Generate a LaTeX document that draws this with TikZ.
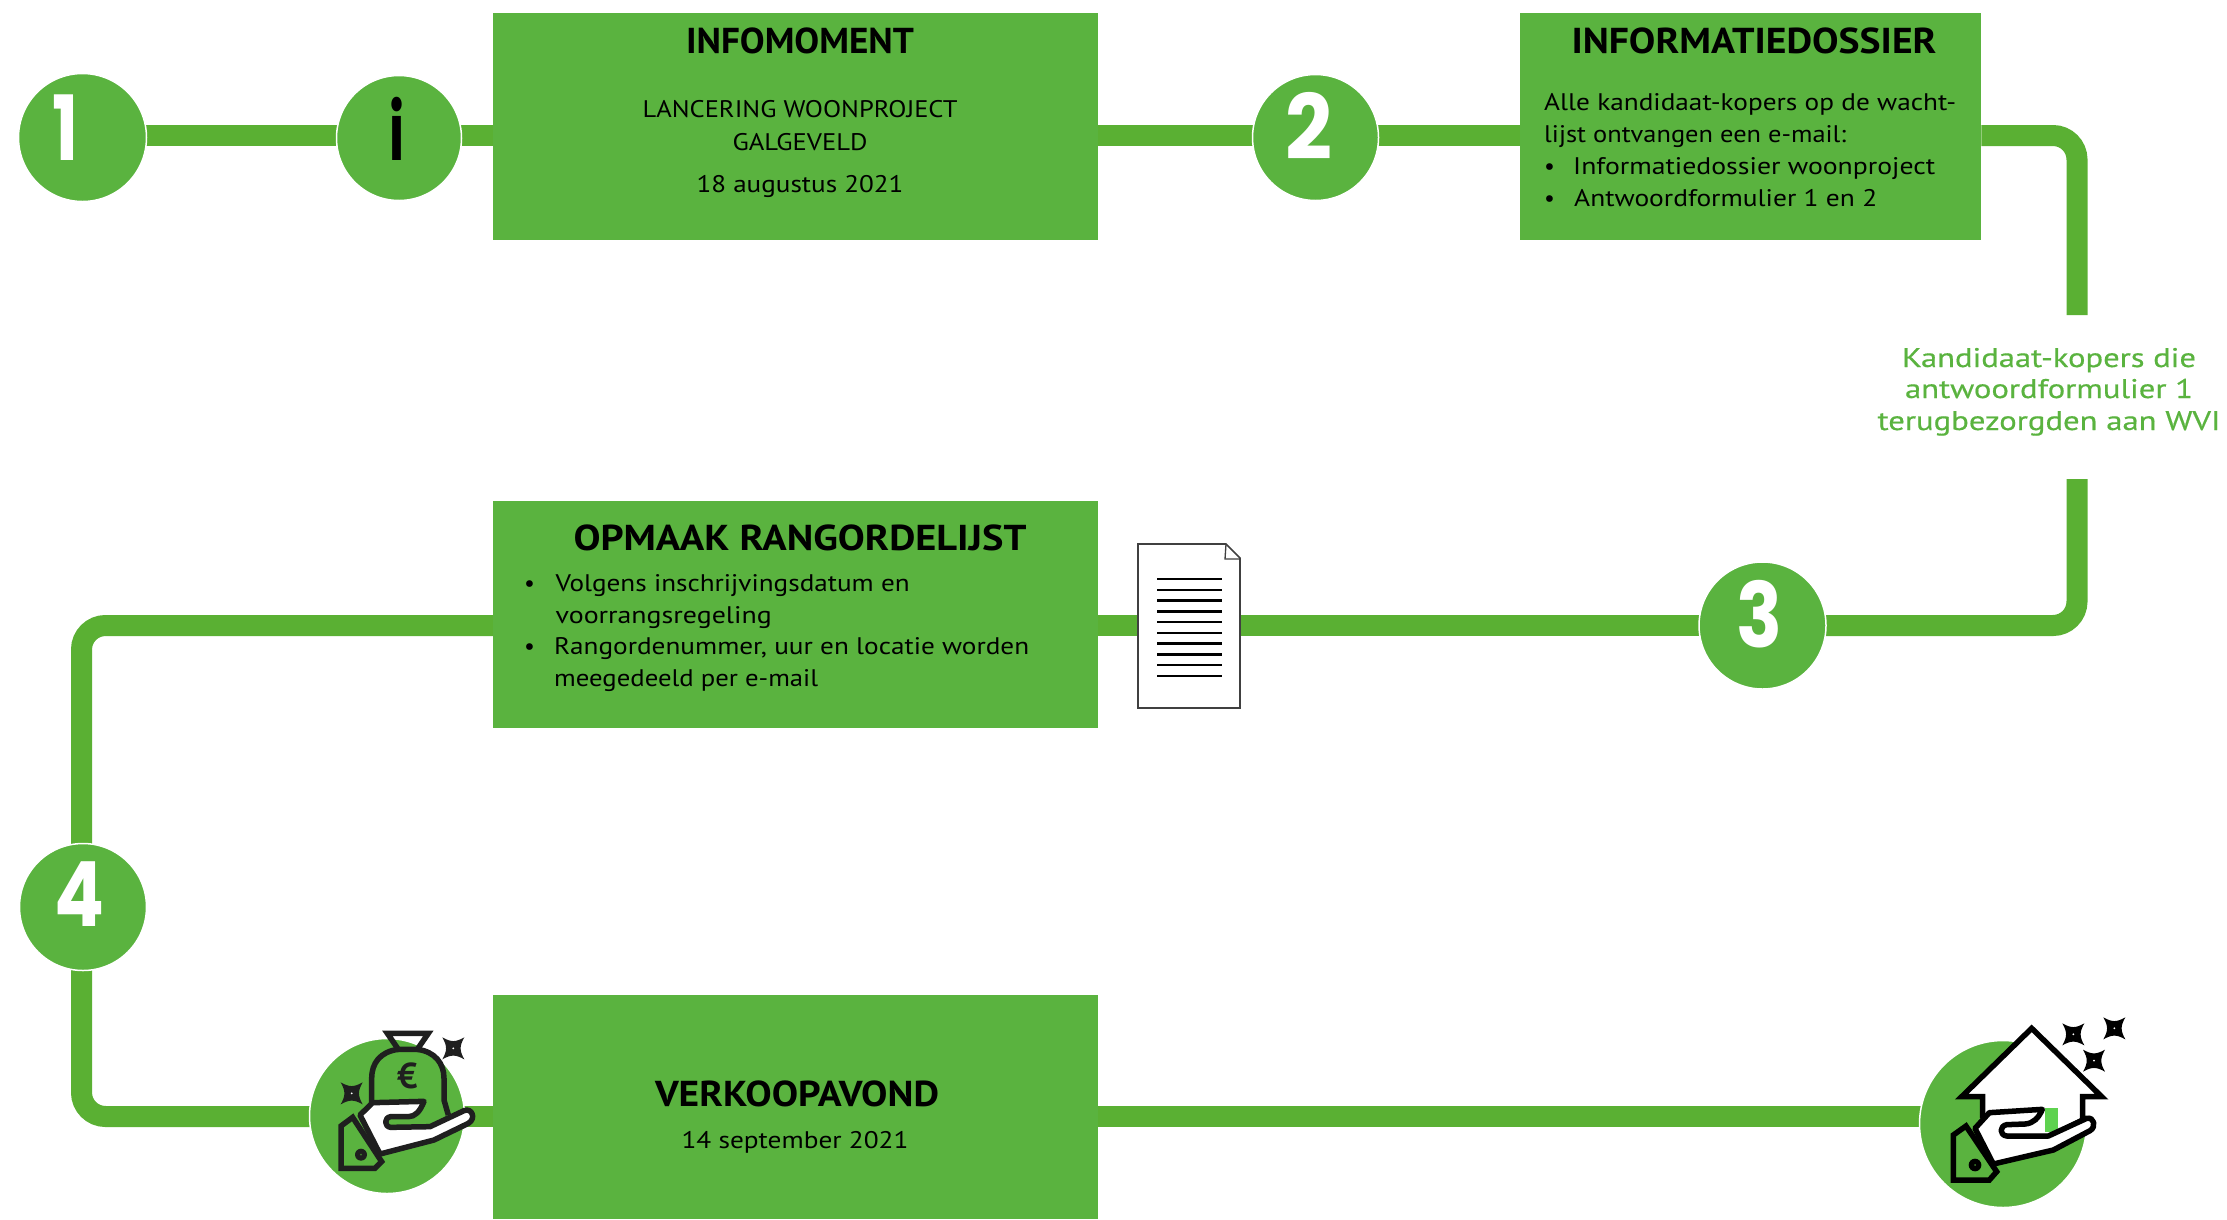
\documentclass[tikz,border=0pt]{standalone}
\usepackage{graphicx}
\usepackage{fontspec}
\setmainfont{PT Sans}
\newfontfamily\digitfont{Poppins}
\usetikzlibrary{backgrounds}
\definecolor{gbox}{HTML}{5AB33F}
\definecolor{gline}{HTML}{5AB033}
\definecolor{gmark}{HTML}{5ED24F}
\newsavebox{\fitbox}
\newcommand{\fitw}[2]{\sbox{\fitbox}{#2}\pgfmathsetmacro{\fitr}{#1/\the\wd\fitbox}\scalebox{\fitr}[1]{\usebox{\fitbox}}}
\newcommand{\sparkle}[4]{%
  \fill[#4] (#1-#3,#2-#3) .. controls (#1-#3*0.2,#2-#3*0.55) and (#1+#3*0.2,#2-#3*0.55) .. (#1+#3,#2-#3)
    .. controls (#1+#3*0.55,#2-#3*0.2) and (#1+#3*0.55,#2+#3*0.2) .. (#1+#3,#2+#3)
    .. controls (#1+#3*0.2,#2+#3*0.55) and (#1-#3*0.2,#2+#3*0.55) .. (#1-#3,#2+#3)
    .. controls (#1-#3*0.55,#2+#3*0.2) and (#1-#3*0.55,#2-#3*0.2) .. cycle;
  \fill[white] (#1,#2) circle[radius=3];}
\tikzset{
  x=1pt,y=-1pt,
  stepc/.style={circle,fill=gbox,draw=white,line width=1.5pt,minimum size=#1,inner sep=0pt},
  boxn/.style={fill=gbox,draw=none,anchor=north west,inner sep=0pt},
  conn/.style={draw=gline,line width=21pt,line cap=butt,rounded corners=24pt},
  txt/.style={anchor=base,inner sep=0pt,font=\fontsize{24}{24}\selectfont,text=black},
  txtw/.style={anchor=base west,inner sep=0pt,font=\fontsize{24}{24}\selectfont,text=black},
  ttl/.style={anchor=base,inner sep=0pt,font=\fontsize{36}{36}\selectfont\bfseries,text=black},
  lbl/.style={anchor=base,inner sep=0pt,font=\fontsize{27}{27}\selectfont\addfontfeature{FakeBold=0.4},text=gbox},
  digit/.style={anchor=base,inner sep=0pt,font=\fontsize{90}{90}\selectfont\digitfont\bfseries,text=white},
  idigit/.style={anchor=base,inner sep=0pt,font=\fontsize{79}{79}\selectfont\digitfont\bfseries,text=black},
  iconline/.style={line width=5.5pt,line join=miter},
}
\begin{document}
\begin{tikzpicture}
\useasboundingbox (0,0) rectangle (2227,1219);
% row guide coordinates
\coordinate (r1) at (0,135.5);
\coordinate (r2) at (0,625.5);
\coordinate (r3) at (0,1116.5);
\coordinate (rightx) at (2077,0);
\coordinate (leftx) at (81.5,0);
\coordinate (gapA) at (2077,315);
\coordinate (gapB) at (2077,479);
\coordinate (houseend) at (1930,1116.5);
% boxes
\node[boxn,minimum width=605pt,minimum height=227pt] (box1) at (493,13) {};
\node[boxn,minimum width=461.5pt,minimum height=227pt] (box2) at (1519.5,13) {};
\node[boxn,minimum width=605pt,minimum height=227pt] (box3) at (493,501) {};
\node[boxn,minimum width=605pt,minimum height=224pt] (box4) at (493,995) {};
% circles
\node[stepc=128pt] (c1) at (82.5,137.5) {};
\node[stepc=125pt] (ci) at (399,138) {};
\node[stepc=126pt] (c2) at (1315.5,137.5) {};
\node[stepc=127pt] (c3) at (1762.5,625.5) {};
\node[stepc=127pt] (c4) at (83,907) {};
\node[stepc=155pt] (cm) at (387,1116) {};
\node[stepc=167pt] (ch) at (2003,1124) {};
% digits
\node[digit] (d1) at (65.5,160) {\fitw{26}{1}};
\node[idigit] (di) at (397,160) {\fitw{15}{i}};
\node[digit] (d2) at (1309,159) {\fitw{47}{2}};
\node[digit] (d3) at (1759,647) {\fitw{46}{3}};
\node[digit] (d4) at (79,926) {\fitw{50}{4}};
% box 1 text
\node[ttl] (t1) at (800,53) {\fitw{228}{INFOMOMENT}};
\node[txt] (t1a) at (800,117) {\fitw{315}{LANCERING WOONPROJECT}};
\node[txt] (t1b) at (800,150) {\fitw{135}{GALGEVELD}};
\node[txt] (t1c) at (800,192) {\fitw{207}{18 augustus 2021}};
% box 2 text
\node[ttl] (t2) at (1754,53) {\fitw{365}{INFORMATIEDOSSIER}};
\node[txtw] (t2a) at (1544,110) {\fitw{412}{Alle kandidaat-kopers op de wacht-}};
\node[txtw] (t2b) at (1544,142) {\fitw{302}{lijst ontvangen een e-mail:}};
\node[txtw] (b2a) at (1544,174) {•};
\node[txtw] (t2c) at (1573,174) {\fitw{362}{Informatiedossier woonproject}};
\node[txtw] (b2b) at (1544,206) {•};
\node[txtw] (t2d) at (1574,206) {\fitw{303}{Antwoordformulier 1 en 2}};
% green label
\node[lbl] (l1) at (2049,367) {\fitw{294}{Kandidaat-kopers die}};
\node[lbl] (l2) at (2049,398) {\fitw{288}{antwoordformulier 1}};
\node[lbl] (l3) at (2049,430) {\fitw{343}{terugbezorgden aan WVI}};
% box 3 text
\node[ttl] (t3) at (800,550) {\fitw{453}{OPMAAK RANGORDELIJST}};
\node[txtw] (b3a) at (524,591) {•};
\node[txtw] (t3a) at (555.5,591) {\fitw{354}{Volgens inschrijvingsdatum en}};
\node[txtw] (t3b) at (555.5,623) {\fitw{216}{voorrangsregeling}};
\node[txtw] (b3b) at (524,654) {•};
\node[txtw] (t3c) at (554,654) {\fitw{475}{Rangordenummer, uur en locatie worden}};
\node[txtw] (t3d) at (554,686) {\fitw{264}{meegedeeld per e-mail}};
% box 4 text
\node[ttl] (t4) at (797,1106) {\fitw{284}{VERKOOPAVOND}};
\node[txt] (t4a) at (795,1148) {\fitw{227}{14 september 2021}};
% document
\draw[draw=black!75,line width=1.6pt,fill=white,line join=miter] (1138,544) -- (1226,544) -- (1240,558) -- (1240,708) -- (1138,708) -- cycle;
\draw[draw=black!75,line width=1.3pt] (1226,544) -- (1225,559) -- (1240,559);
\foreach \i in {0,...,9} \draw[black,line width=2.5pt] (1157,579+\i*10.75) -- (1222,579+\i*10.75);
% money icon
\begin{scope}[shift={(280,1000)},scale=1/3]
  \draw[iconline,draw=black!88] (322,100) -- (445,100) -- (412,148) -- (355,148) -- cycle;
  \draw[iconline,draw=black!88] (355,148) .. controls (300,155) and (275,190) .. (275,235) -- (275,315);
  \draw[iconline,draw=black!88] (412,148) .. controls (465,155) and (492,190) .. (492,235) -- (492,300) -- (505,345);
  \node[inner sep=0pt,text=black!88,font=\fontsize{36}{36}\selectfont\bfseries] (euro) at (382,228) {€};
  \draw[iconline,draw=black!88,fill=white,line join=round] (240,345) -- (278,308) -- (432,304) .. controls (420,335) and (405,350) .. (385,350) -- (332,350) .. controls (312,352) and (312,380) .. (332,382) -- (450,380) -- (552,332) .. controls (575,322) and (590,355) .. (565,370) -- (462,420) -- (300,462) -- cycle;
  \draw[iconline,draw=black!88,fill=gbox] (183,378) -- (218,352) -- (305,485) -- (285,505) -- (183,505) -- cycle;
  \fill[black!88] (243,464) circle[radius=18];
  \fill[gbox!70!black] (243,464) circle[radius=3];
  \sparkle{520}{145}{33}{black!88}
  \sparkle{215}{280}{33}{black!88}
\end{scope}
% house icon
\begin{scope}[shift={(1890,1000)},scale=1/3]
  \draw[iconline,fill=white,line join=miter] (278,350) -- (278,290) -- (215,290) -- (425,85) -- (635,290) -- (578,290) -- (578,360) -- (480,410) -- (345,410) -- cycle;
  \fill[gmark] (465,323) rectangle (503,395);
  \draw[iconline,fill=white,line join=round] (255,385) -- (298,338) -- (457,328) .. controls (445,355) and (430,370) .. (405,372) -- (350,374) .. controls (328,378) and (328,405) .. (350,408) -- (475,408) -- (590,355) .. controls (612,350) and (620,380) .. (600,392) -- (490,450) -- (310,492) -- cycle;
  \draw[iconline,fill=gbox] (190,405) -- (228,378) -- (320,515) -- (298,540) -- (190,540) -- cycle;
  \fill[black] (255,495) circle[radius=19];
  \fill[gbox!70!black] (255,495) circle[radius=3];
  \sparkle{550}{103}{33}{black}
  \sparkle{673}{85}{33}{black}
  \sparkle{612}{182}{33}{black}
\end{scope}
% connectors behind everything
\begin{pgfonlayer}{background}
  \draw[conn] (c1 |- r1) -- (ci |- r1);
  \draw[conn] (ci |- r1) -- (box1.west |- r1);
  \draw[conn] (box1.east |- r1) -- (c2 |- r1);
  \draw[conn] (c2 |- r1) -- (box2.west |- r1);
  \draw[conn] (box2.east |- r1) -- (rightx |- r1) -- (gapA);
  \draw[conn] (gapB) -- (rightx |- r2) -- (c3 |- r2);
  \draw[conn] (c3 |- r2) -- (box3.east |- r2);
  \draw[conn] (box3.west |- r2) -- (leftx |- r2) -- (leftx |- c4);
  \draw[conn] (leftx |- c4) -- (leftx |- r3) -- (cm |- r3);
  \draw[conn] (cm |- r3) -- (box4.west |- r3);
  \draw[conn] (box4.east |- r3) -- (houseend);
\end{pgfonlayer}
\end{tikzpicture}
\end{document}
